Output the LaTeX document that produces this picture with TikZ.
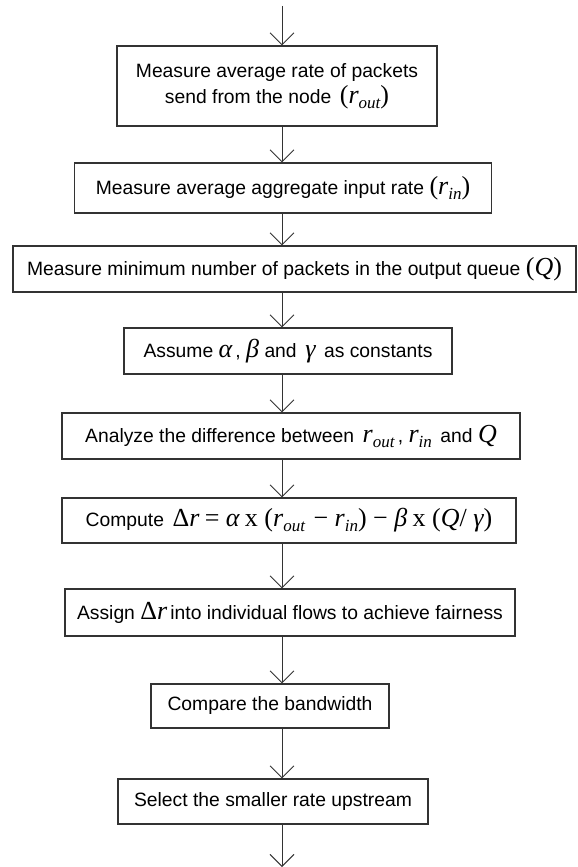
\documentclass[tikz,border=0pt]{standalone}
\usepackage{fontspec}
\setmainfont{Liberation Sans}
\newfontfamily\mathf{Liberation Serif}
\usetikzlibrary{arrows.meta}
\newcommand{\mv}[1]{{\mathf\fontsize{26}{26}\selectfont\itshape #1}}
\newcommand{\mup}[1]{{\mathf\fontsize{26}{26}\selectfont #1}}
\newcommand{\msb}[1]{\raisebox{-5pt}{\mathf\fontsize{17}{17}\selectfont\itshape #1}}
\begin{document}
\begin{tikzpicture}[x=1pt,y=-1pt,
  box/.style={draw=black!80, line width=1.1pt, fill=white, inner sep=0pt, align=center,
    font=\fontsize{19.3}{26}\selectfont},
  arr/.style={draw=black!80, line width=0.9pt, -{Straight Barb[length=12pt,width=24pt]}}]
\useasboundingbox (0,0) rectangle (578,867);
\node[box, minimum width=320, minimum height=80] (b1) at (277,86)
  {Measure average rate of packets\\ send from the node \,\mup{(}\mv{r}\msb{out}\mup{)}};
\node[box, minimum width=417, minimum height=50] (b2) at (283,188)
  {Measure average aggregate input rate \mup{(}\mv{r}\msb{in}\mup{)}};
\node[box, minimum width=563, minimum height=46] (b3) at (294.5,269)
  {Measure minimum number of packets in the output queue \mup{(}\mv{Q}\mup{)}};
\node[box, minimum width=328, minimum height=46] (b4) at (288,351)
  {Assume \mv{α}\,, \mv{β} and \,\mv{γ}\, as constants};
\node[box, minimum width=458, minimum height=46] (b5) at (291,436)
  {Analyze the difference between \,\mv{r}\msb{out}\,, \mv{r}\msb{in}\, and \mv{Q}};
\node[box, minimum width=454, minimum height=45] (b6) at (289,520.5)
  {Compute \,\mup{Δ}\mv{r} \mup{= }\mv{α} \mup{x (}\mv{r}\msb{out}\, \mup{− }\mv{r}\msb{in}\mup{) − }\mv{β} \mup{x (}\mv{Q}\mup{/ }\mv{γ}\mup{)}};
\node[box, minimum width=450, minimum height=47] (b7) at (290,612.5)
  {Assign \mup{Δ}\mv{r}\,into individual flows to achieve fairness};
\node[box, minimum width=238, minimum height=44] (b8) at (270,706)
  {Compare the bandwidth};
\node[box, minimum width=310, minimum height=45] (b9) at (273,801.5)
  {Select the smaller rate upstream};
\coordinate (top) at (282,6);
\coordinate (bot) at (282,867);
\draw[arr] (top) -- (top |- b1.north);
\draw[arr] (b1.south -| top) -- (b2.north -| top);
\draw[arr] (b2.south -| top) -- (b3.north -| top);
\draw[arr] (b3.south -| top) -- (b4.north -| top);
\draw[arr] (b4.south -| top) -- (b5.north -| top);
\draw[arr] (b5.south -| top) -- (b6.north -| top);
\draw[arr] (b6.south -| top) -- (b7.north -| top);
\draw[arr] (b7.south -| top) -- (b8.north -| top);
\draw[arr] (b8.south -| top) -- (b9.north -| top);
\draw[arr] (b9.south -| top) -- (bot);
\end{tikzpicture}
\end{document}
